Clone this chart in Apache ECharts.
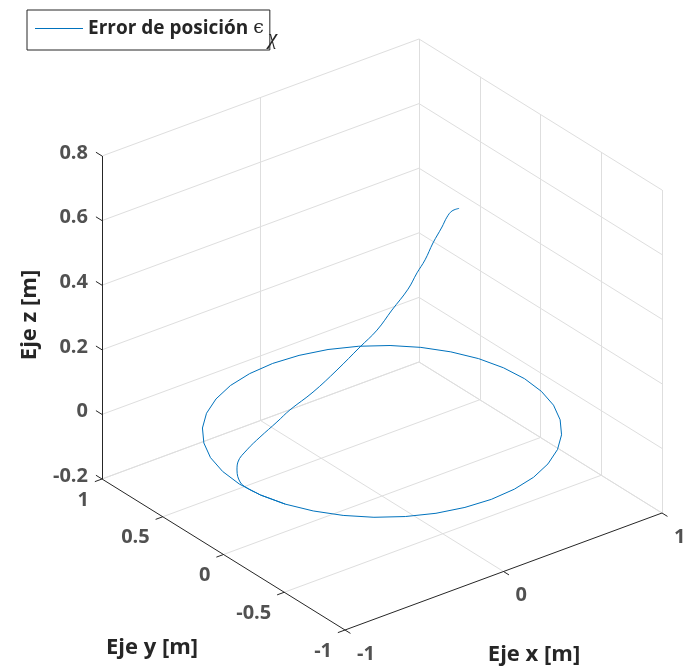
<!DOCTYPE html>
<html><head><meta charset="utf-8">
<script src="https://cdn.jsdelivr.net/npm/echarts@6/dist/echarts.min.js"></script>
<style>html,body{margin:0;padding:0;background:#fff}#c{width:683px;height:671px}</style>
</head><body><div id="c"></div>
<script>
// ---- data ----
const xTicks = [-1, 0, 1];
const yTicks = [-1, -0.5, 0, 0.5, 1];
const zTicks = [-0.2, 0, 0.2, 0.4, 0.6, 0.8];
const xTickLabels = ['-1', '0', '1'];
const yTickLabels = ['-1', '-0.5', '0', '0.5', '1'];
const zTickLabels = ['-0.2', '0', '0.2', '0.4', '0.6', '0.8'];
const xRange = [-1, 1];
const yRange = [-1, 1];
const zRange = [-0.2, 0.8];
const seriesName = 'Error de posición';
// descending (transient) part of the error trajectory
const transX = [0.448,0.403,0.373,0.344,0.291,0.245,0.198,0.145,0.049,-0.039,-0.142,-0.281,-0.426,-0.567,-0.646,-0.750,-0.829,-0.883,-0.888,-0.884,-0.895,-0.889];
const transY = [-0.050,-0.050,-0.048,-0.045,-0.040,-0.035,-0.030,-0.025,-0.018,-0.010,-0.004,0.004,0.012,0.018,0.022,0.026,0.030,0.034,0.035,0.015,-0.056,-0.125];
const transZ = [0.621,0.621,0.607,0.581,0.540,0.495,0.462,0.420,0.371,0.323,0.288,0.240,0.196,0.165,0.141,0.112,0.086,0.057,0.033,0.000,0.000,0.000];
// steady-state loop at z = 0
const loopX = [-0.889,-0.886,-0.846,-0.779,-0.689,-0.579,-0.450,-0.308,-0.156,0.000,0.156,0.308,0.450,0.579,0.689,0.779,0.846,0.886,0.900,
  0.886,0.846,0.779,0.689,0.579,0.450,0.308,0.156,0.000,-0.156,-0.308,-0.450,-0.579,-0.689,-0.779,-0.846,-0.886,-0.900,-0.886,-0.846];
const loopY = [-0.125,-0.156,-0.308,-0.450,-0.579,-0.689,-0.779,-0.846,-0.886,-0.900,-0.886,-0.846,-0.779,-0.689,-0.579,-0.450,-0.308,-0.156,0.000,
  0.156,0.308,0.450,0.579,0.689,0.779,0.846,0.886,0.900,0.886,0.846,0.779,0.689,0.579,0.450,0.308,0.156,0.000,-0.156,-0.308];
const loopZ = [0,0,0,0,0,0,0,0,0,0,0,0,0,0,0,0,0,0,0,0,0,0,0,0,0,0,0,0,0,0,0,0,0,0,0,0,0,0,0];

// ---- view (orthographic projection, layout only) ----
const view = {cx: 382, cy: 431.4, ux: 158.5, uy: -58.5, vx: -121.5, vy: -75.5, wz: -323};
function proj(x, y, z) {
  return [view.cx + view.ux * x + view.vx * y, view.cy + view.uy * x + view.vy * y + view.wz * z];
}
const [x0, x1] = xRange, [y0, y1] = yRange, [z0, z1] = zRange;

const gridSegs = [];
const seg = (a, b) => gridSegs.push({coords: [proj(...a), proj(...b)]});
xTicks.forEach(x => { if (x !== x0) seg([x, y0, z0], [x, y1, z0]); });
yTicks.forEach(y => { if (y !== y0) seg([x0, y, z0], [x1, y, z0]); });
xTicks.forEach(x => { if (x !== x0) seg([x, y1, z0], [x, y1, z1]); });
zTicks.forEach(z => seg([x0, y1, z], [x1, y1, z]));
yTicks.forEach(y => seg([x1, y, z0], [x1, y, z1]));
zTicks.forEach(z => seg([x1, y0, z], [x1, y1, z]));

const axisSegs = [];
const aseg = (a, b) => axisSegs.push({coords: [proj(...a), proj(...b)]});
aseg([x0, y0, z0], [x1, y0, z0]);
aseg([x0, y0, z0], [x0, y1, z0]);
aseg([x0, y1, z0], [x0, y1, z1]);
xTicks.forEach(x => aseg([x, y0, z0], [x, y0 - 0.045, z0]));
yTicks.forEach(y => aseg([x0, y, z0], [x0 - 0.045, y, z0]));
zTicks.forEach(z => aseg([x0, y1, z], [x0, y1 + 0.05, z]));

const transPts = transX.map((x, i) => proj(x, transY[i], transZ[i]));
const loopPts = loopX.map((x, i) => proj(x, loopY[i], loopZ[i]));

const FONT = 'Open Sans';
const TXT = '#262626';
const BLUE = '#0072BD';
function labelSeries(points, texts, pos, align) {
  return {
    type: 'scatter', silent: true, symbolSize: 0, z: 5,
    data: points.map((p, i) => ({value: p, name: texts[i]})),
    label: {show: true, formatter: p => p.name, position: pos, align: align, verticalAlign: 'middle',
      fontFamily: FONT, fontWeight: 'bold', fontSize: 20, color: TXT}
  };
}

const chart = echarts.init(document.getElementById('c'), null, {renderer: 'canvas'});
chart.setOption({
  animation: false,
  backgroundColor: '#fff',
  grid: {left: 0, top: 0, right: 0, bottom: 0},
  xAxis: {type: 'value', min: 0, max: 683, show: false},
  yAxis: {type: 'value', min: 0, max: 671, inverse: true, show: false},
  legend: {
    left: 27, top: 10, padding: [9, 6, 12, 8],
    borderColor: TXT, borderWidth: 1, backgroundColor: '#fff',
    icon: 'rect', itemWidth: 48, itemHeight: 1, selectedMode: false,
    data: [seriesName],
    formatter: () => '{t|Error de posición }{e|ϵ}{g|}',
    textStyle: {
      color: TXT,
      rich: {
        t: {fontFamily: FONT, fontWeight: 'bold', fontSize: 19, color: TXT},
        e: {fontFamily: 'DejaVu Serif', fontSize: 19, color: TXT},
        g: {width: 17}
      }
    }
  },
  graphic: [
    {type: 'text', z: 100, x: 268, y: 38, style: {text: 'χ', fontFamily: 'Liberation Serif', fontStyle: 'italic', fontSize: 21, fill: TXT, align: 'left', verticalAlign: 'middle'}},
    {type: 'text', x: 30, y: 315, rotation: Math.PI / 2, style: {text: 'Eje z [m]', fontFamily: FONT, fontWeight: 'bold', fontSize: 22, fill: TXT, align: 'center', verticalAlign: 'middle'}},
    {type: 'text', x: 152, y: 648, style: {text: 'Eje y [m]', fontFamily: FONT, fontWeight: 'bold', fontSize: 22, fill: TXT, align: 'center', verticalAlign: 'middle'}},
    {type: 'text', x: 534, y: 655, style: {text: 'Eje x [m]', fontFamily: FONT, fontWeight: 'bold', fontSize: 22, fill: TXT, align: 'center', verticalAlign: 'middle'}}
  ],
  series: [
    {type: 'lines', coordinateSystem: 'cartesian2d', silent: true, z: 1, data: gridSegs,
      lineStyle: {color: '#dedede', width: 1, opacity: 1}},
    {type: 'lines', coordinateSystem: 'cartesian2d', silent: true, z: 2, data: axisSegs,
      lineStyle: {color: TXT, width: 1, opacity: 1}},
    {type: 'line', name: seriesName, data: transPts, symbol: 'none', smooth: 0.4, silent: true, z: 3,
      lineStyle: {color: BLUE, width: 1}, itemStyle: {color: BLUE}},
    {type: 'line', name: seriesName, data: loopPts, symbol: 'none', smooth: false, silent: true, z: 3,
      lineStyle: {color: BLUE, width: 1}, itemStyle: {color: BLUE}},
    labelSeries(zTicks.map(z => proj(x0, y1, z)), zTickLabels, [-14, -3], 'right'),
    labelSeries(yTicks.map(y => proj(x0, y, z0)), yTickLabels, [-13, 21], 'right'),
    labelSeries(xTicks.map(x => proj(x, y0, z0)), xTickLabels, [12, 24], 'left')
  ]
});
</script></body></html>
